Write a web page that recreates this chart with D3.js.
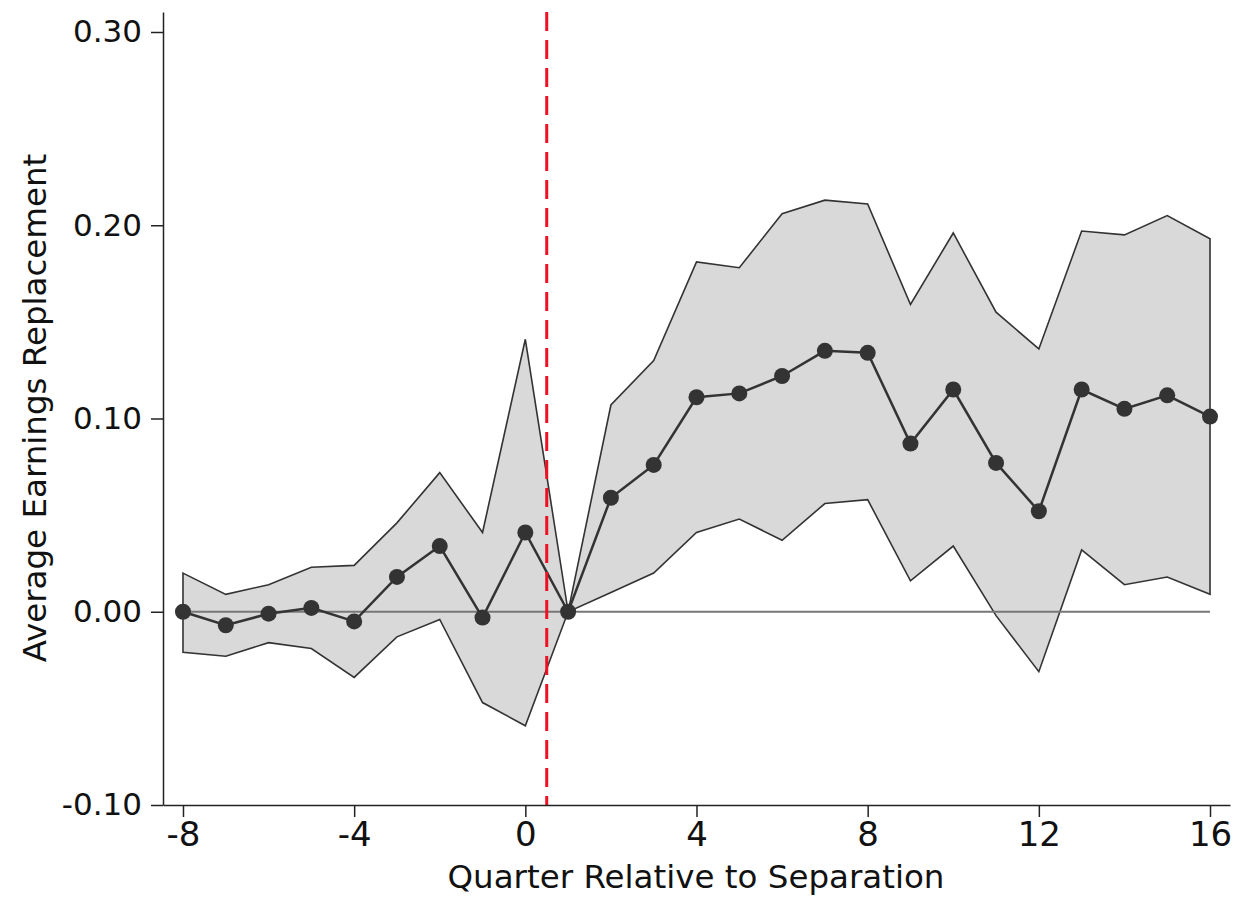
<!DOCTYPE html>
<html>
<head>
<meta charset="utf-8">
<script src="https://cdn.jsdelivr.net/npm/d3@7"></script>
<style>
  body { margin: 0; background: #fff; }
</style>
</head>
<body>
<script>
// quarters relative to separation
var quarters = [-8, -7, -6, -5, -4, -3, -2, -1, 0, 1, 2, 3, 4, 5, 6, 7, 8, 9, 10, 11, 12, 13, 14, 15, 16]
// point estimates
var estimate = [0.000, -0.007, -0.001, 0.002, -0.005, 0.018, 0.034, -0.003, 0.041, 0.000,
  0.059, 0.076, 0.111, 0.113, 0.122, 0.135, 0.134, 0.087, 0.115, 0.077, 0.052, 0.115, 0.105, 0.112, 0.101]
// confidence band
var upper = [0.020, 0.009, 0.014, 0.023, 0.024, 0.046, 0.072, 0.041, 0.141, 0.000,
  0.107, 0.130, 0.181, 0.178, 0.206, 0.213, 0.211, 0.159, 0.196, 0.155, 0.136, 0.197, 0.195, 0.205, 0.193]
var lower = [-0.021, -0.023, -0.016, -0.019, -0.034, -0.013, -0.004, -0.047, -0.059, 0.000,
  0.010, 0.020, 0.041, 0.048, 0.037, 0.056, 0.058, 0.016, 0.034, -0.002, -0.031, 0.032, 0.014, 0.018, 0.009]

var xTicks = [-8, -4, 0, 4, 8, 12, 16]
var yTicks = [-0.1, 0, 0.1, 0.2, 0.3]
var separation = 0.5

var data = quarters.map(function(q, i) {
  return { q: q, est: estimate[i], lo: lower[i], hi: upper[i] }
})

var svg = d3.select("body").append("svg")
  .attr('width', 1255)
  .attr('height', 898)

var x = d3.scaleLinear().domain([-8.467, 16.467]).range([163, 1230])
var y = d3.scaleLinear().domain([-0.1, 0.31035]).range([805, 12])

// band
var band = d3.area()
  .x(function(d) { return x(d.q) })
  .y0(function(d) { return y(d.lo) })
  .y1(function(d) { return y(d.hi) })

svg.append("path")
  .datum(data)
  .attr('d', function(d) { return band(d) + "Z" })
  .attr('fill', '#d9d9d9')
  .attr('stroke', '#333')
  .attr('stroke-width', 1.6)

// zero line
svg.append("line")
  .attr('x1', x(-8)).attr('x2', x(16))
  .attr('y1', y(0)).attr('y2', y(0))
  .attr('stroke', '#777')
  .attr('stroke-width', 1.8)

// estimates
var line = d3.line()
  .x(function(d) { return x(d.q) })
  .y(function(d) { return y(d.est) })

svg.append("path")
  .datum(data)
  .attr('d', line)
  .attr('fill', 'none')
  .attr('stroke', '#333')
  .attr('stroke-width', 2.5)

svg.selectAll("circle.pt")
  .data(data)
  .enter().append("circle")
  .attr('class', 'pt')
  .attr('cx', function(d) { return x(d.q) })
  .attr('cy', function(d) { return y(d.est) })
  .attr('r', 8)
  .attr('fill', '#333')

// separation marker
svg.append("line")
  .attr('x1', x(separation)).attr('x2', x(separation))
  .attr('y1', y.range()[1]).attr('y2', y.range()[0])
  .attr('stroke', '#ee1122')
  .attr('stroke-width', 3)
  .attr('stroke-dasharray', '19,9')

// axes
var xAxis = svg.append("g")
  .attr('transform', 'translate(0,805)')
  .call(d3.axisBottom(x).tickValues(xTicks).tickSize(12).tickSizeOuter(0).tickPadding(5)
    .tickFormat(function(d) { return String(d) }))

var yAxis = svg.append("g")
  .attr('transform', 'translate(163,0)')
  .call(d3.axisLeft(y).tickValues(yTicks).tickSize(12).tickSizeOuter(0).tickPadding(9)
    .tickFormat(function(d) { return d3.format(".2f")(d).replace("\u2212", "-") }))

svg.selectAll(".domain, .tick line")
  .attr('stroke', '#222')
  .attr('stroke-width', 1.5)

xAxis.selectAll("text")
  .attr('font-family', 'DejaVu Sans')
  .attr('font-size', 34)
  .attr('fill', '#111')

yAxis.selectAll("text")
  .attr('font-family', 'DejaVu Sans')
  .attr('font-size', 31)
  .attr('fill', '#111')

svg.append("text")
  .attr('x', 696)
  .attr('y', 888)
  .attr('text-anchor', 'middle')
  .attr('font-family', 'DejaVu Sans')
  .attr('font-size', 32.5)
  .attr('fill', '#111')
  .text("Quarter Relative to Separation")

svg.append("text")
  .attr('transform', 'translate(46,408) rotate(-90)')
  .attr('text-anchor', 'middle')
  .attr('font-family', 'DejaVu Sans')
  .attr('font-size', 32.5)
  .attr('fill', '#111')
  .text("Average Earnings Replacement")
</script>
</body>
</html>
